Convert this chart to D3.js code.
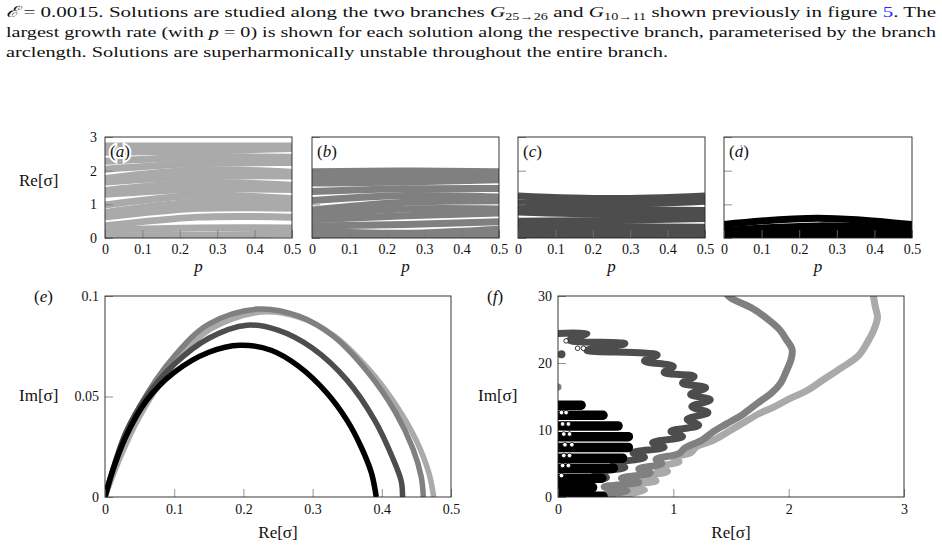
<!DOCTYPE html>
<html>
<head>
<meta charset="utf-8">
<script src="https://cdn.jsdelivr.net/npm/d3@7"></script>
<style>
  body { margin: 0; background: #fff; }
  text { font-family: "Liberation Serif", "DejaVu Serif", serif; fill: #111; }
</style>
</head>
<body>
<div id="fig"></div>
<script>
// ---- data ----
var pGrid = [0, 0.25, 0.5];
var pTicks = [0, 0.1, 0.2, 0.3, 0.4, 0.5];
var reTicksTop = [0, 1, 2, 3];

// Re[sigma] of each eigenvalue band at p = 0, 0.25, 0.5, panels (a)-(d)
var bandsA = [
  [2.73, 2.73, 2.73],
  [2.55, 2.58, 2.66],
  [2.28, 2.40, 2.40],
  [2.04, 2.21, 2.24],
  [1.77, 2.02, 1.95],
  [1.66, 1.83, 1.84],
  [1.41, 1.64, 1.57],
  [1.30, 1.45, 1.44],
  [0.98, 1.26, 1.17],
  [0.76, 1.07, 1.02],
  [0.62, 0.88, 0.88],
  [0.36, 0.62, 0.62],
  [0.24, 0.30, 0.30],
  [0.06, 0.08, 0.12]
];
var bandsB = [
  [1.97, 1.99, 1.97],
  [1.82, 1.84, 1.86],
  [1.63, 1.66, 1.73],
  [1.38, 1.46, 1.47],
  [1.11, 1.26, 1.22],
  [0.83, 1.06, 1.11],
  [0.70, 0.86, 0.86],
  [0.54, 0.66, 0.74],
  [0.36, 0.40, 0.48],
  [0.20, 0.14, 0.26],
  [0.06, 0.02, 0.08]
];
var bandsC = [
  [1.25, 1.17, 1.25],
  [1.04, 1.00, 1.09],
  [0.90, 0.84, 0.82],
  [0.77, 0.70, 0.70],
  [0.50, 0.52, 0.58],
  [0.36, 0.34, 0.32],
  [0.21, 0.17, 0.20],
  [0.06, 0.04, 0.06]
];
var bandsD = [
  [0.40, 0.59, 0.40],
  [0.22, 0.36, 0.26],
  [0.12, 0.20, 0.12],
  [0.03, 0.05, 0.03]
];

// panel (e): [Re, Im] of the leading eigenvalue
var eLight = [[0,0],[0.02,0.018],[0.05,0.04],[0.1,0.066],[0.15,0.083],[0.225,0.092],[0.28,0.0895],[0.33,0.0805],[0.38,0.064],[0.42,0.046],[0.45,0.028],[0.468,0.012],[0.475,0]];
var eGray  = [[0,0],[0.02,0.022],[0.05,0.045],[0.1,0.07],[0.15,0.086],[0.22,0.0935],[0.28,0.09],[0.33,0.08],[0.38,0.062],[0.42,0.042],[0.445,0.024],[0.457,0.01],[0.46,0]];
var eDark  = [[0,0],[0.03,0.032],[0.06,0.05],[0.1,0.066],[0.15,0.079],[0.205,0.0855],[0.25,0.083],[0.3,0.074],[0.35,0.058],[0.39,0.038],[0.415,0.02],[0.428,0.008],[0.43,0]];
var eBlack = [[0,0],[0.01,0.012],[0.03,0.03],[0.06,0.048],[0.1,0.062],[0.15,0.072],[0.195,0.0755],[0.24,0.073],[0.28,0.065],[0.32,0.052],[0.35,0.038],[0.37,0.025],[0.385,0.012],[0.392,0]];
var eXTicks = [0, 0.1, 0.2, 0.3, 0.4, 0.5];
var eYTicks = [0, 0.05, 0.1];

// panel (f): [Re, Im] along each branch
var fLight = [[0.55,0.3],[0.75,1.0],[0.55,1.6],[0.85,2.4],[0.7,3.0],[0.95,3.8],[0.85,4.4],[1.05,5.3],[1.0,5.9],[1.15,6.6],[1.2,7.5],[1.35,8.5],[1.5,10],[1.6,11],[1.75,12.5],[1.87,13.4],[2.0,14.6],[2.16,15.9],[2.3,17.5],[2.45,19.2],[2.6,21],[2.68,23],[2.74,25],[2.77,26.8],[2.75,28.5],[2.73,30.5]];
var fGray = [[0.4,0.3],[0.6,0.9],[0.4,1.5],[0.7,2.2],[0.55,2.8],[0.8,3.6],[0.7,4.2],[0.9,5.0],[0.85,5.6],[1.05,6.5],[1.1,7.3],[1.25,8.5],[1.35,9.8],[1.47,11],[1.6,12.3],[1.73,14],[1.85,15.5],[1.93,17],[1.98,18.8],[2.02,20.5],[2.03,22],[1.98,23.5],[1.92,25],[1.8,26.8],[1.68,28.2],[1.5,29.7],[1.45,30.5]];
var fDark = [[0.0,24.4],[0.25,24.4],[0.1,23.4],[0.58,22.9],[0.25,21.9],[0.86,21.2],[0.75,20.3],[1.0,19.5],[0.92,18.6],[1.18,18.0],[1.08,17.0],[1.28,16.3],[1.15,15.3],[1.32,14.5],[1.16,13.5],[1.3,12.6],[1.12,11.6],[1.22,10.7],[0.98,9.8],[1.08,9.0],[0.82,8.1],[0.92,7.4],[0.65,6.6],[0.75,5.9],[0.48,5.0],[0.58,4.4],[0.32,3.6],[0.42,2.9],[0.2,2.2],[0.3,1.5],[0.15,0.8]];
var fDarkDots = [[0.03, 21.3]];
var fGrayDots = [[0.0, 16.4]];
// horizontal sweeps of the black branch: [Im, largest Re]
var fBlackBars = [[13.7,0.2],[12.2,0.39],[10.6,0.52],[9.0,0.61],[7.4,0.61],[5.8,0.56],[4.3,0.48],[2.8,0.38],[1.4,0.3],[0.1,0.39]];
// open markers at the left end of the black sweeps
var fBlackMarks = [[0.03,12.6],[0.07,12.6],[0.04,10.9],[0.09,10.9],[0.05,9.4],[0.1,9.4],[0.06,7.8],[0.12,7.8],[0.05,6.2],[0.1,6.2],[0.04,4.7],[0.09,4.7],[0.03,3.2],[0.22,22.2],[0.17,22.2],[0.07,23.3]];
var fXTicks = [0, 1, 2, 3];
var fYTicks = [0, 10, 20, 30];

var colLight = "#aaaaaa", colGray = "#808080", colDark = "#4d4d4d", colBlack = "#000000";

// ---- svg ----
var svg = d3.select("#fig").append("svg")
  .attr("width", 942)
  .attr("height", 549);

var fmt = function(d) { return String(d); };

// caption text
var cap = svg.append("g").style("font-size", "15.5px");
var l1 = cap.append("text").attr("x", 6).attr("y", 17)
  .attr("textLength", 930).attr("lengthAdjust", "spacingAndGlyphs");
l1.append("tspan").style("font-style", "italic").text("ℰ");
l1.append("tspan").text(" = 0.0015. Solutions are studied along the two branches ");
l1.append("tspan").style("font-style", "italic").text("G");
l1.append("tspan").attr("dy", 3).style("font-size", "10.5px").text("25→26");
l1.append("tspan").attr("dy", -3).text(" and ");
l1.append("tspan").style("font-style", "italic").text("G");
l1.append("tspan").attr("dy", 3).style("font-size", "10.5px").text("10→11");
l1.append("tspan").attr("dy", -3).text(" shown previously in figure ");
l1.append("tspan").style("fill", "#2a2aff").text("5");
l1.append("tspan").text(". The");

var l2 = cap.append("text").attr("x", 6).attr("y", 37)
  .attr("textLength", 930).attr("lengthAdjust", "spacingAndGlyphs");
l2.append("tspan").text("largest growth rate (with ");
l2.append("tspan").style("font-style", "italic").text("p");
l2.append("tspan").text(" = 0) is shown for each solution along the respective branch, parameterised by the branch");

cap.append("text").attr("x", 6).attr("y", 57)
  .attr("textLength", 662).attr("lengthAdjust", "spacingAndGlyphs")
  .text("arclength. Solutions are superharmonically unstable throughout the entire branch.");

var clipId = 0;
function makeClip(x0, y0, w, h) {
  clipId++;
  svg.append("clipPath").attr("id", "clip" + clipId)
    .append("rect").attr("x", x0).attr("y", y0).attr("width", w).attr("height", h);
  return "url(#clip" + clipId + ")";
}

function styleAxis(g) {
  g.select(".domain").remove();
  g.selectAll(".tick line").attr("stroke", "#777").attr("stroke-width", 0.8);
  g.selectAll(".tick text").style("font-size", "14px")
    .style("font-family", "'Liberation Serif', 'DejaVu Serif', serif").attr("fill", "#111");
}

// ---- top row (a)-(d) ----
var topY0 = 137, topY1 = 238;
var topPanels = [
  { x0: 105, x1: 292, bands: bandsA, color: colLight, label: "a" },
  { x0: 312, x1: 499, bands: bandsB, color: colGray, label: "b" },
  { x0: 518, x1: 705, bands: bandsC, color: colDark, label: "c" },
  { x0: 724, x1: 912, bands: bandsD, color: colBlack, label: "d" }
];

topPanels.forEach(function(pn, i) {
  var x = d3.scaleLinear().domain([0, 0.5]).range([pn.x0, pn.x1]);
  var y = d3.scaleLinear().domain([0, 3]).range([topY1, topY0]);
  var clip = makeClip(pn.x0, topY0, pn.x1 - pn.x0, topY1 - topY0);

  var line = d3.line()
    .x(function(d, j) { return x(pGrid[j]); })
    .y(function(d) { return y(d); })
    .curve(d3.curveNatural);

  svg.append("g").attr("clip-path", clip)
    .selectAll("path")
    .data(pn.bands)
    .enter()
    .append("path")
    .attr("d", line)
    .attr("fill", "none")
    .attr("stroke", pn.color)
    .attr("stroke-width", 7);

  // inward ticks
  var xAxis = svg.append("g")
    .attr("transform", `translate(0, ${topY1})`)
    .call(d3.axisBottom(x).tickValues(pTicks).tickSize(-8).tickPadding(6).tickFormat(fmt));
  styleAxis(xAxis);

  var yAxis = svg.append("g")
    .attr("transform", `translate(${pn.x0}, 0)`)
    .call(d3.axisLeft(y).tickValues(reTicksTop).tickSize(-8).tickPadding(8)
      .tickFormat(i === 0 ? fmt : function() { return ""; }));
  styleAxis(yAxis);

  svg.append("rect")
    .attr("x", pn.x0).attr("y", topY0)
    .attr("width", pn.x1 - pn.x0).attr("height", topY1 - topY0)
    .attr("fill", "none").attr("stroke", "#222").attr("stroke-width", 0.9);

  svg.append("text")
    .attr("x", pn.x0 + 5).attr("y", topY0 + 20)
    .style("font-size", "17px")
    .attr("stroke", "#fff").attr("stroke-width", 4).attr("paint-order", "stroke")
    .html("(<tspan font-style='italic'>" + pn.label + "</tspan>)");

  svg.append("text")
    .attr("x", (pn.x0 + pn.x1) / 2).attr("y", 272)
    .attr("text-anchor", "middle")
    .style("font-size", "17px").style("font-style", "italic")
    .text("p");
});

svg.append("text").attr("x", 19).attr("y", 186)
  .style("font-size", "17px").text("Re[σ]");

// ---- panel (e) ----
var eX0 = 105, eX1 = 451, bY0 = 296, bY1 = 497;
var ex = d3.scaleLinear().domain([0, 0.5]).range([eX0, eX1]);
var ey = d3.scaleLinear().domain([0, 0.1]).range([bY1, bY0]);
var eClip = makeClip(eX0, bY0, eX1 - eX0, bY1 - bY0);
var eLine = d3.line().x(d => ex(d[0])).y(d => ey(d[1])).curve(d3.curveCatmullRom.alpha(0.5));

var eSeries = [[eLight, colLight], [eGray, colGray], [eDark, colDark], [eBlack, colBlack]];
var eg = svg.append("g").attr("clip-path", eClip);
eSeries.forEach(function(s) {
  eg.append("path").attr("d", eLine(s[0]))
    .attr("fill", "none").attr("stroke", s[1]).attr("stroke-width", 5.5)
    .attr("stroke-linejoin", "round");
});

var exAxis = svg.append("g").attr("transform", `translate(0, ${bY1})`)
  .call(d3.axisBottom(ex).tickValues(eXTicks).tickSize(-8).tickPadding(7).tickFormat(fmt));
styleAxis(exAxis);
var eyAxis = svg.append("g").attr("transform", `translate(${eX0}, 0)`)
  .call(d3.axisLeft(ey).tickValues(eYTicks).tickSize(-8).tickPadding(6).tickFormat(fmt));
styleAxis(eyAxis);
svg.append("rect").attr("x", eX0).attr("y", bY0).attr("width", eX1 - eX0).attr("height", bY1 - bY0)
  .attr("fill", "none").attr("stroke", "#222").attr("stroke-width", 0.9);

svg.append("text").attr("x", 34).attr("y", 302).style("font-size", "17px")
  .html("(<tspan font-style='italic'>e</tspan>)");
svg.append("text").attr("x", 19).attr("y", 401).style("font-size", "17px").text("Im[σ]");
svg.append("text").attr("x", (eX0 + eX1) / 2).attr("y", 538).attr("text-anchor", "middle")
  .style("font-size", "17px").text("Re[σ]");

// ---- panel (f) ----
var fX0 = 558, fX1 = 904;
var fx = d3.scaleLinear().domain([0, 3]).range([fX0, fX1]);
var fy = d3.scaleLinear().domain([0, 30]).range([bY1, bY0]);
var fClip = makeClip(fX0, bY0, fX1 - fX0, bY1 - bY0);
var fLine = d3.line().x(d => fx(d[0])).y(d => fy(d[1])).curve(d3.curveCatmullRom.alpha(0.5));

var fg = svg.append("g").attr("clip-path", fClip);
[[fLight, colLight], [fGray, colGray], [fDark, colDark]].forEach(function(s) {
  fg.append("path").attr("d", fLine(s[0]))
    .attr("fill", "none").attr("stroke", s[1]).attr("stroke-width", 7)
    .attr("stroke-linejoin", "round").attr("stroke-linecap", "round");
});
fg.selectAll("circle.gdot").data(fGrayDots).enter().append("circle")
  .attr("cx", d => fx(d[0])).attr("cy", d => fy(d[1])).attr("r", 3.5).attr("fill", colGray);
fg.selectAll("circle.ddot").data(fDarkDots).enter().append("circle")
  .attr("cx", d => fx(d[0])).attr("cy", d => fy(d[1])).attr("r", 4).attr("fill", colDark);
fg.selectAll("line.bar")
  .data(fBlackBars)
  .enter()
  .append("line")
  .attr("class", "bar")
  .attr("x1", fx(0)).attr("x2", d => fx(d[1]))
  .attr("y1", d => fy(d[0])).attr("y2", d => fy(d[0]))
  .attr("stroke", colBlack).attr("stroke-width", 9.5).attr("stroke-linecap", "round");
fg.selectAll("circle.mark")
  .data(fBlackMarks)
  .enter()
  .append("circle")
  .attr("class", "mark")
  .attr("cx", d => fx(d[0])).attr("cy", d => fy(d[1]))
  .attr("r", 2.3)
  .attr("fill", "#fff").attr("stroke", "#000").attr("stroke-width", 0.8);

var fxAxis = svg.append("g").attr("transform", `translate(0, ${bY1})`)
  .call(d3.axisBottom(fx).tickValues(fXTicks).tickSize(-8).tickPadding(7).tickFormat(fmt));
styleAxis(fxAxis);
var fyAxis = svg.append("g").attr("transform", `translate(${fX0}, 0)`)
  .call(d3.axisLeft(fy).tickValues(fYTicks).tickSize(-8).tickPadding(6).tickFormat(fmt));
styleAxis(fyAxis);
svg.append("rect").attr("x", fX0).attr("y", bY0).attr("width", fX1 - fX0).attr("height", bY1 - bY0)
  .attr("fill", "none").attr("stroke", "#222").attr("stroke-width", 0.9);

svg.append("text").attr("x", 487).attr("y", 302).style("font-size", "17px")
  .html("(<tspan font-style='italic'>f</tspan>)");
svg.append("text").attr("x", 478).attr("y", 401).style("font-size", "17px").text("Im[σ]");
svg.append("text").attr("x", (fX0 + fX1) / 2).attr("y", 538).attr("text-anchor", "middle")
  .style("font-size", "17px").text("Re[σ]");
</script>
</body>
</html>
